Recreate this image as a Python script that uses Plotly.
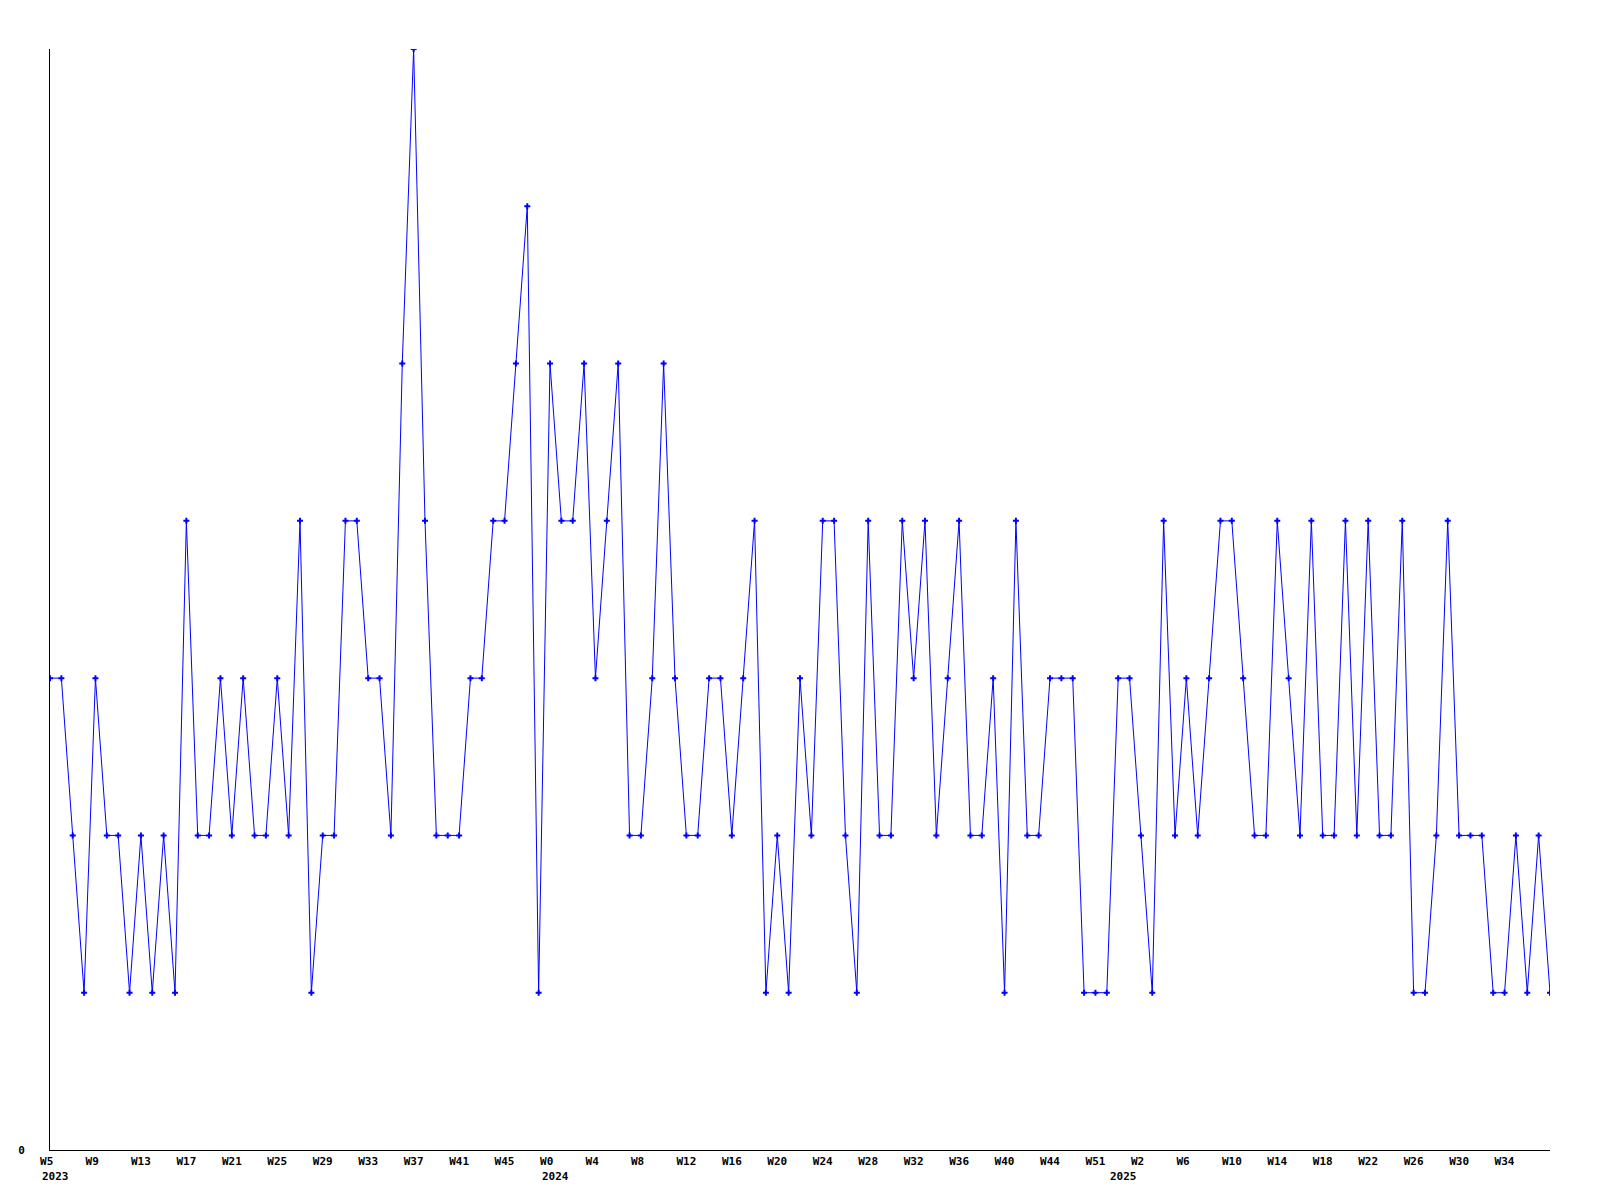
import plotly.graph_objects as go

# ---- data ----
values = [3, 3, 2, 1, 3, 2, 2, 1, 2, 1, 2, 1, 4, 2, 2, 3, 2, 3, 2, 2,
          3, 2, 4, 1, 2, 2, 4, 4, 3, 3, 2, 5, 7, 4, 2, 2, 2, 3, 3, 4,
          4, 5, 6, 1, 5, 4, 4, 5, 3, 4, 5, 2, 2, 3, 5, 3, 2, 2, 3, 3,
          2, 3, 4, 1, 2, 1, 3, 2, 4, 4, 2, 1, 4, 2, 2, 4, 3, 4, 2, 3,
          4, 2, 2, 3, 1, 4, 2, 2, 3, 3, 3, 1, 1, 1, 3, 3, 2, 1, 4, 2,
          3, 2, 3, 4, 4, 3, 2, 2, 4, 3, 2, 4, 2, 2, 4, 2, 4, 2, 2, 4,
          1, 1, 2, 4, 2, 2, 2, 1, 1, 2, 1, 2, 1]
week_labels = ["W5", "W9", "W13", "W17", "W21", "W25", "W29", "W33", "W37", "W41",
               "W45", "W0", "W4", "W8", "W12", "W16", "W20", "W24", "W28", "W32",
               "W36", "W40", "W44", "W51", "W2", "W6", "W10", "W14", "W18", "W22",
               "W26", "W30", "W34"]
week_label_index = [4 * k for k in range(len(week_labels))]
year_labels = ["2023", "2024", "2025"]
year_label_index = [0, 44, 94]

# ---- layout constants (page body has an 8px margin) ----
W, H = 1600, 1200
ML, MR, MT, MB = 42, 58, 41, 58
n = len(values)
x = list(range(n))
LEFT_OFFSET = -10  # label left edge relative to tick, px

# pad labels to equal width (monospace) so that centred labels start left of the tick
ticktext = ["<b>%s</b>" % (t + "\u00a0" * (3 - len(t))) for t in week_labels]

FONT = dict(family="DejaVu Sans Mono", size=11, color="black")

fig = go.Figure()
fig.add_trace(go.Scatter(
    x=x, y=values, mode="lines+markers",
    line=dict(color="#0000FF", width=1),
    marker=dict(symbol="cross", size=5, color="#0000FF", line=dict(width=0)),
    showlegend=False, hoverinfo="skip",
))

for lbl, idx in zip(year_labels, year_label_index):
    fig.add_annotation(
        x=idx, xref="x", y=0, yref="paper",
        text="<b>%s</b>" % lbl, showarrow=False,
        xanchor="left", yanchor="middle", xshift=LEFT_OFFSET, yshift=-26,
        font=FONT,
    )

fig.update_layout(
    template="none",
    width=W, height=H,
    margin=dict(l=ML, r=MR, t=MT, b=MB, pad=0, autoexpand=False),
    paper_bgcolor="white", plot_bgcolor="white",
    font=FONT,
)
fig.update_xaxes(
    range=[0, n - 1], showgrid=False, zeroline=False, automargin=False,
    showline=True, linecolor="black", linewidth=1,
    tickmode="array", tickvals=week_label_index, ticktext=ticktext,
    ticks="", ticklabelstandoff=1, tickfont=FONT,
)
fig.update_yaxes(
    range=[0, 7], showgrid=False, zeroline=False, automargin=False,
    showline=True, linecolor="black", linewidth=1,
    tickmode="array", tickvals=[0], ticktext=["<b>0</b>"],
    ticks="", ticklabelstandoff=22, tickfont=FONT,
)

fig.write_html("out.html")
